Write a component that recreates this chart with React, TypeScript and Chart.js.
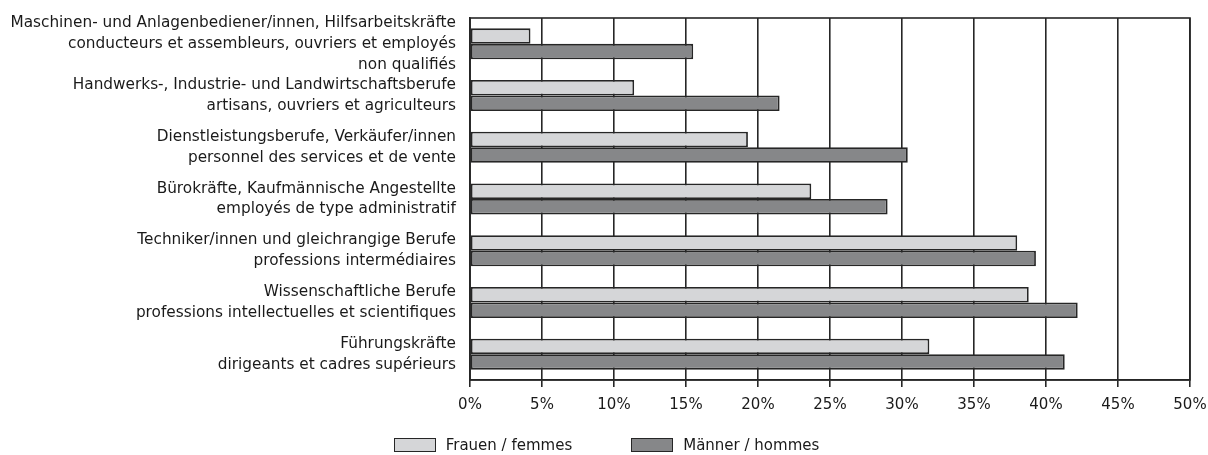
import React, { useEffect, useRef } from "react";
import { Chart, registerables } from "chart.js";

Chart.register(...registerables);

const categories: string[][] = [
  ["Maschinen- und Anlagenbediener/innen, Hilfsarbeitskräfte", "conducteurs et assembleurs, ouvriers et employés", "non qualifiés"],
  ["Handwerks-, Industrie- und Landwirtschaftsberufe", "artisans, ouvriers et agriculteurs"],
  ["Dienstleistungsberufe, Verkäufer/innen", "personnel des services et de vente"],
  ["Bürokräfte, Kaufmännische Angestellte", "employés de type administratif"],
  ["Techniker/innen und gleichrangige Berufe", "professions intermédiaires"],
  ["Wissenschaftliche Berufe", "professions intellectuelles et scientifiques"],
  ["Führungskräfte", "dirigeants et cadres supérieurs"],
];

const womenValues: number[] = [4.2, 11.4, 19.3, 23.7, 38.0, 38.8, 31.9];
const menValues: number[] = [15.5, 21.5, 30.4, 29.0, 39.3, 42.2, 41.3];

const seriesNames: string[] = ["Frauen / femmes", "Männer / hommes"];
const seriesColors: string[] = ["#d5d6d8", "#868789"];

const xMin = 0;
const xMax = 50;
const xStep = 5;

const FONT = "'DejaVu Sans', sans-serif";
const LINE = "#262626";

export default function App() {
  const ref = useRef<HTMLCanvasElement | null>(null);

  useEffect(() => {
    if (!ref.current) return;
    const framePlugin = {
      id: "frame",
      afterDraw(chart: any) {
        const { ctx, chartArea } = chart;
        const { left, top, right, bottom } = chartArea;
        ctx.save();
        ctx.strokeStyle = LINE;
        ctx.lineWidth = 1.6;
        ctx.strokeRect(left, top, right - left, bottom - top);
        ctx.restore();
      },
    };
    const chart = new Chart(ref.current, {
      type: "bar",
      data: {
        labels: categories,
        datasets: [
          {
            label: seriesNames[0],
            data: womenValues,
            backgroundColor: seriesColors[0],
            borderColor: LINE,
            borderWidth: 1.8,
            borderSkipped: false,
            barPercentage: 1,
            categoryPercentage: 0.6,
          },
          {
            label: seriesNames[1],
            data: menValues,
            backgroundColor: seriesColors[1],
            borderColor: LINE,
            borderWidth: 1.8,
            borderSkipped: false,
            barPercentage: 1,
            categoryPercentage: 0.6,
          },
        ],
      },
      options: {
        indexAxis: "y",
        responsive: false,
        maintainAspectRatio: false,
        animation: false,
        layout: { padding: { top: 18, right: 18, left: 0, bottom: 0 } },
        plugins: {
          legend: { display: false },
          tooltip: { enabled: false },
        },
        scales: {
          x: {
            min: xMin,
            max: xMax,
            ticks: {
              stepSize: xStep,
              callback: (v: any) => v + "%",
              color: "#1a1a1a",
              font: { family: FONT, size: 15 },
              padding: 9,
              maxRotation: 0,
              autoSkip: false,
            },
            grid: { color: LINE, lineWidth: 1.6, tickLength: 7, drawTicks: true },
            border: { color: LINE, width: 1.6 },
            afterFit: (s: any) => {
              s.height = 75;
              s.paddingLeft = 0;
              s.paddingRight = 0;
            },
          },
          y: {
            ticks: {
              color: "#1a1a1a",
              font: { family: FONT, size: 15.3, lineHeight: 1.36 },
              padding: 14,
              autoSkip: false,
            },
            grid: { display: false, drawTicks: false },
            border: { color: LINE, width: 1.6 },
            afterFit: (s: any) => {
              s.width = 470;
              s.paddingTop = 0;
              s.paddingBottom = 0;
            },
          },
        },
      } as any,
      plugins: [framePlugin],
    });
    return () => chart.destroy();
  }, []);

  return (
    <div style={{ position: "fixed", left: 0, top: 0, width: 1208, height: 455, background: "#fff" }}>
      <canvas ref={ref} width={1208} height={455} style={{ display: "block", width: 1208, height: 455 }} />
      <div
        style={{
          position: "absolute",
          left: 0,
          top: 436,
          width: 1208,
          height: 18,
          display: "flex",
          justifyContent: "center",
          alignItems: "center",
          gap: 59,
          paddingLeft: 5,
          boxSizing: "border-box",
          fontFamily: FONT,
          fontSize: 15,
          color: "#1a1a1a",
        }}
      >
        {seriesNames.map((name, i) => (
          <div key={name} style={{ display: "flex", alignItems: "center" }}>
            <span
              style={{
                display: "inline-block",
                width: 42,
                height: 14,
                boxSizing: "border-box",
                border: `1.6px solid ${LINE}`,
                background: seriesColors[i],
                marginRight: 10,
              }}
            />
            <span style={{ lineHeight: "18px", whiteSpace: "nowrap" }}>{name}</span>
          </div>
        ))}
      </div>
    </div>
  );
}
